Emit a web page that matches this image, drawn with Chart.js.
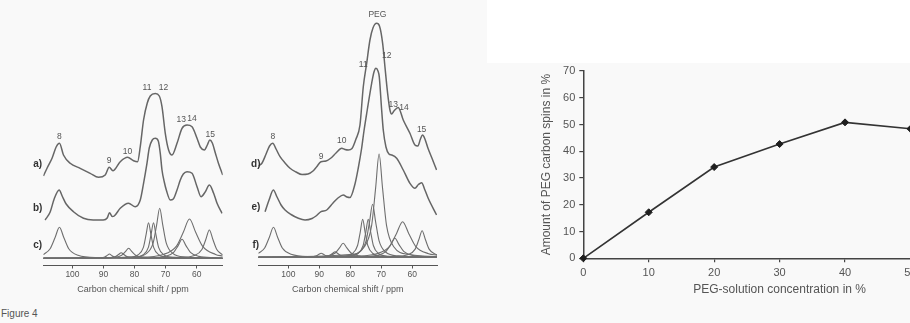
<!DOCTYPE html>
<html><head><meta charset="utf-8">
<script src="https://cdn.jsdelivr.net/npm/chart.js@4.4.1/dist/chart.umd.min.js"></script>
<style>
html,body{margin:0;padding:0;width:910px;height:323px;overflow:hidden;background:#f9f9f9;font-family:"Liberation Sans",Arial,sans-serif;}
#topwhite{position:absolute;left:487px;top:0;width:423px;height:63px;background:#fff;}
canvas{position:absolute;}
#p1{left:25px;top:0;}
#p2{left:240px;top:0;}
#p3{left:536px;top:55px;}
#fig{position:absolute;left:1px;top:308px;font-size:10px;line-height:12px;color:#555;}
</style></head><body>
<div id="topwhite"></div>
<canvas id="p1" width="205" height="300"></canvas>
<canvas id="p2" width="205" height="300"></canvas>
<canvas id="p3" width="450" height="250"></canvas>
<div id="fig">Figure 4</div>
<script>
// ---------- data: right chart ----------
const concentration = [0, 10, 20, 30, 40, 50];
const pegSpins = [0, 17.2, 34.1, 42.7, 50.8, 48.4];

// ---------- data: spectra (ppm, intensity above component baseline) ----------
const ppmTicks = [100, 90, 80, 70, 60];

const traceA = [[109.35,82.3],[108.16,90.3],[106.55,100.3],[105.26,111.3],[104.19,115],[102.9,103.3],[100.74,95],[97.52,90],[94.29,85],[91.61,81],[89.45,83.3],[88.16,91],[86.97,87.6],[84.61,96.6],[82.26,101],[80.32,97.6],[79.03,96.6],[78.16,111.6],[77.1,138.3],[75.9,155.3],[74.94,162.3],[73.32,164.8],[72.03,162.3],[71.16,151.6],[70.1,125],[69.03,108.3],[67.94,103.3],[66.32,115],[64.71,130],[63.1,133.3],[61.48,131.6],[59.87,120],[58.81,111.3],[57.52,108.3],[56.55,113.3],[55.74,118.3],[54.94,115.3],[53.97,105.3],[53.0,95.3],[51.6,83.3]];

const traceB = [[108.81,38.3],[107.19,46.3],[105.9,59.3],[104.29,68.3],[103.32,62.3],[102.03,54.3],[99.68,46.6],[96.45,40],[93.32,38.3],[90.1,38.3],[88.81,40.3],[88.06,45.6],[87.19,41.8],[86.55,42.3],[84.61,50],[81.94,55],[79.77,51.6],[78.16,58.3],[77.1,75],[76.0,95],[75.26,110.3],[74.29,118.3],[73.32,120],[72.35,117.3],[71.71,105],[71.16,88.3],[70.42,76.3],[69.77,68.3],[68.48,58.3],[67.52,59.3],[66.32,68.3],[65.26,78.3],[64.29,84.3],[63.1,86.6],[61.48,85],[59.87,71.6],[58.58,61.6],[57.19,66.6],[55.9,73.3],[54.52,65],[53.42,55],[51.81,45]];

const componentsC = [
  [[109.4,3.6],[107.2,9.6],[105.6,20.8],[104.2,31],[102.8,20.8],[101.2,9.6],[98.2,3.1],[92.2,0.8],[51.6,0]],
  [[109.4,0],[94.1,0.1],[91.1,0.43],[89.6,1.3],[88.8,2.9],[88.1,4.3],[87.4,2.9],[86.6,1.3],[85.1,0.43],[82.1,0.1],[51.6,0]],
  [[109.4,0],[91.5,0.15],[87.9,0.56],[86.1,1.7],[85.14,3.8],[84.3,5.6],[83.46,3.8],[82.5,1.7],[80.7,0.56],[77.1,0.15],[51.6,0]],
  [[109.4,0],[90.9,0.27],[86.4,1],[84.15,3.1],[82.95,6.7],[81.9,10],[80.85,6.7],[79.65,3.1],[77.4,1],[72.9,0.27],[51.6,0]],
  [[109.4,0],[82.1,1],[78.8,3.6],[77.15,11],[76.27,23.9],[75.5,35.6],[74.73,23.9],[73.85,11],[72.2,3.6],[68.9,1],[51.6,0]],
  [[109.4,0],[80.5,1],[77.2,3.6],[75.55,11],[74.67,23.9],[73.9,35.6],[73.13,23.9],[72.25,11],[70.6,3.6],[67.3,1],[51.6,0]],
  [[109.4,0],[80.3,1.35],[76.1,5],[74.0,15.5],[72.88,33.5],[71.9,50],[70.92,33.5],[69.8,15.5],[67.7,5],[63.5,1.35],[51.6,0]],
  [[109.4,0],[75.5,0.5],[70.1,1.9],[67.4,5.9],[65.96,12.7],[64.7,19],[63.44,12.7],[62.0,5.9],[59.3,1.9],[53.9,0.5],[51.6,0]],
  [[109.4,0],[79.1,1.06],[70.7,3.9],[66.5,12.2],[64.26,26.3],[62.3,39.3],[60.34,26.3],[58.1,12.2],[53.9,3.9],[51.6,2.2]],
  [[109.4,0],[65.5,0.76],[60.7,2.8],[58.3,8.8],[57.02,19],[55.9,28.3],[54.78,19],[53.5,8.8],[51.6,3.4]]
];

const traceD = [[109.61,91.3],[108.48,94.3],[107.19,103.3],[106.06,111.3],[105.03,114],[103.97,108.3],[102.68,100.6],[101.06,94.3],[99.45,89],[97.52,85.3],[95.58,82.8],[93.65,83.3],[92.03,86.3],[90.84,90.6],[89.45,95.6],[87.84,96.3],[86.23,99.3],[84.61,104.3],[82.77,109],[81.71,107.8],[80.65,107.3],[79.45,108.8],[78.16,118.3],[76.87,132.3],[75.81,170.3],[74.71,194],[73.65,217.3],[72.68,229.3],[71.48,234],[70.58,231.3],[69.55,214],[68.81,190.6],[67.94,164],[67.19,147.3],[66.65,143.3],[65.9,146.3],[64.52,149.8],[62.9,137.3],[60.74,124],[59.13,112.3],[58.16,111.3],[57.35,118.3],[56.65,122.3],[55.9,118.3],[54.94,109.3],[53.65,99.3],[52.13,87.3]];

const traceE = [[107.52,45.6],[106.23,57.3],[104.84,67.3],[103.65,60.3],[102.35,52.3],[101.06,47.3],[99.13,42.8],[96.77,39],[94.61,37.3],[92.35,38.8],[91.06,41.3],[89.45,45.6],[87.61,47.3],[85.58,54.3],[83.97,59.3],[82.26,62.3],[81.06,60.3],[80.1,59.8],[78.48,73.3],[77.42,89.3],[76.32,109.3],[75.58,126.3],[74.52,147.3],[73.1,174],[72.35,185.3],[71.71,189],[71.06,186.3],[70.65,180.6],[69.87,147.3],[69.35,127.3],[68.48,110.3],[67.52,103.3],[66.65,102.3],[65.03,99],[62.9,87.3],[60.74,74],[59.13,69],[58.0,72.8],[56.97,74.6],[55.9,67.3],[54.84,59],[52.13,42.3]];

const componentsF = [
  [[109.7,3.9],[107.65,9.3],[106.13,20.1],[104.8,30],[103.47,20.1],[101.95,9.3],[99.1,3],[93.4,0.8],[52,0]],
  [[109.7,0],[96.6,0.1],[93.0,0.4],[91.2,1.2],[90.24,2.7],[89.4,4],[88.56,2.7],[87.6,1.2],[85.8,0.4],[82.2,0.1],[52,0]],
  [[109.7,0],[92.1,0.15],[88.5,0.56],[86.7,1.7],[85.74,3.8],[84.9,5.6],[84.06,3.8],[83.1,1.7],[81.3,0.56],[77.7,0.15],[52,0]],
  [[109.7,0],[92.5,0.38],[87.4,1.4],[84.85,4.3],[83.49,9.4],[82.3,14],[81.11,9.4],[79.75,4.3],[77.2,1.4],[72.1,0.38],[52,0]],
  [[109.7,0],[82.6,1],[79.3,3.8],[77.65,11.8],[76.77,25.5],[76.0,38],[75.23,25.5],[74.35,11.8],[72.7,3.8],[69.4,1],[52,0]],
  [[109.7,0],[80.8,1],[77.5,3.8],[75.85,11.8],[74.97,25.5],[74.2,38],[73.43,25.5],[72.55,11.8],[70.9,3.8],[67.6,1],[52,0]],
  [[109.7,0],[81.2,1.4],[77.0,5.3],[74.9,16.4],[73.78,35.5],[72.8,53],[71.82,35.5],[70.7,16.4],[68.6,5.3],[64.4,1.4],[52,0]],
  [[109.7,0],[80.3,2.8],[75.5,10.3],[73.1,32],[71.82,69.2],[70.7,103.3],[69.58,69.2],[68.3,32],[65.9,10.3],[61.1,2.8],[52,0.8]],
  [[109.7,0],[77.0,0.5],[71.3,1.9],[68.45,5.9],[66.93,12.7],[65.6,19],[64.27,12.7],[62.75,5.9],[59.9,1.9],[54.2,0.5],[52,0]],
  [[109.7,0],[79.9,0.96],[71.5,3.6],[67.3,11],[65.06,23.9],[63.1,35.6],[61.14,23.9],[58.9,11],[54.7,3.6],[52,2.2]],
  [[109.7,0],[65.8,0.72],[61.3,2.7],[59.05,8.2],[57.85,17.8],[56.8,26.6],[55.75,17.8],[54.55,8.2],[52.3,2.7],[52,2.5]]
];

// ---------- text annotations (label, ppm, intensity) ----------
const peakLabels1 = [["8",104.2,121.6],["9",88.16,97.6],["10",82.26,106.6],["11",76.0,171],["12",70.65,171],["13",64.94,139],["14",61.48,140],["15",55.58,124]];
const seriesLabels1 = [["a)",111.2,94.3],["b)",111.2,50.3],["c)",111.2,13.3]];
const peakLabels2 = [["PEG",71.26,242.3],["11",75.81,192.3],["12",68.26,201.3],["13",66.13,152.3],["14",62.68,150],["15",56.97,128],["8",105.03,120.6],["9",89.45,100.6],["10",82.77,116.6]];
const seriesLabels2 = [["d)",110.5,93.3],["e)",110.5,50.3],["f)",110.5,12.3]];

// ---------- rendering ----------
const FONT = '"Liberation Sans", Arial, Helvetica, sans-serif';
Chart.defaults.font.family = FONT;

const textMarks = {
  id: 'textMarks',
  afterDatasetsDraw(chart, args, opts) {
    const {ctx, scales: {x, y}} = chart;
    ctx.save();
    ctx.textAlign = 'center';
    ctx.textBaseline = 'middle';
    ctx.font = '8.5px ' + FONT;
    ctx.fillStyle = '#555';
    (opts.peaks || []).forEach(p => ctx.fillText(p[0], x.getPixelForValue(p[1]), y.getPixelForValue(p[2])));
    ctx.font = 'bold 10px ' + FONT;
    ctx.fillStyle = '#333';
    (opts.series || []).forEach(p => ctx.fillText(p[0], x.getPixelForValue(p[1]), y.getPixelForValue(p[2])));
    ctx.restore();
  }
};

function spectrumChart(id, xmin, xmax, ymin, ymax, traces, comps, peaks, series, padL, padR) {
  const ds = [];
  traces.forEach(t => ds.push({data: t, borderColor: '#666', borderWidth: 1.5, pointRadius: 0, cubicInterpolationMode: 'monotone', fill: false}));
  comps.forEach(c => ds.push({data: c, borderColor: '#6e6e6e', borderWidth: 1.1, pointRadius: 0, cubicInterpolationMode: 'monotone', fill: false}));
  new Chart(document.getElementById(id), {
    type: 'line',
    data: {datasets: ds},
    options: {
      responsive: false, animation: false, devicePixelRatio: 1,
      layout: {padding: {left: padL, right: padR, top: 0, bottom: 0}},
      plugins: {legend: {display: false}, tooltip: {enabled: false}, textMarks: {peaks: peaks, series: series}},
      scales: {
        x: {
          type: 'linear', reverse: true, min: xmin, max: xmax,
          afterBuildTicks: s => { s.ticks = ppmTicks.map(v => ({value: v})); },
          afterFit: s => { s.height = 300 - 265.5; },
          grid: {drawOnChartArea: false, drawTicks: true, tickLength: 3, color: '#555'},
          border: {display: true, color: '#555', width: 1},
          ticks: {font: {size: 8.5}, color: '#555', padding: 1.5, maxRotation: 0},
          title: {display: true, text: 'Carbon chemical shift / ppm', font: {size: 9}, color: '#555', padding: {top: 0, bottom: 5.1}}
        },
        y: {type: 'linear', display: false, min: ymin, max: ymax}
      }
    },
    plugins: [textMarks]
  });
}

spectrumChart('p1', 51.6, 109.4, -7.2, 258.3, [traceA, traceB], componentsC, peakLabels1, seriesLabels1, 18.3, 7.3);
spectrumChart('p2', 52, 109.7, -8.2, 257.3, [traceD, traceE], componentsF, peakLabels2, seriesLabels2, 18.3, 8);

new Chart(document.getElementById('p3'), {
  type: 'line',
  data: {datasets: [{
    data: concentration.map((c, i) => ({x: c, y: pegSpins[i]})),
    borderColor: '#333', borderWidth: 1.6, tension: 0, clip: false,
    pointStyle: 'rectRot', pointRadius: 3.5, pointBackgroundColor: '#1e1e1e', pointBorderColor: '#1e1e1e', pointBorderWidth: 1
  }]},
  options: {
    responsive: false, animation: false, devicePixelRatio: 1,
    layout: {padding: {left: 0, top: 16, right: 6.6, bottom: 0}},
    plugins: {legend: {display: false}, tooltip: {enabled: false}},
    scales: {
      x: {
        type: 'linear', min: 0, max: 60,
        ticks: {stepSize: 10, font: {size: 11}, color: '#555', padding: 4, maxRotation: 0},
        grid: {drawOnChartArea: false, drawTicks: true, tickLength: 4, color: '#444', lineWidth: 1.2},
        border: {display: true, color: '#444', width: 1.5},
        title: {display: true, text: 'PEG-solution concentration in %', font: {size: 12}, color: '#555', padding: {top: 0, bottom: 7.8}},
        afterFit: s => { s.height = 46.7; }
      },
      y: {
        type: 'linear', min: 0, max: 70,
        ticks: {stepSize: 10, font: {size: 11}, color: '#555', padding: 4},
        grid: {drawOnChartArea: false, drawTicks: true, tickLength: 4, color: '#444', lineWidth: 1.2},
        border: {display: true, color: '#444', width: 1.5},
        title: {display: true, text: 'Amount of PEG carbon spins in %', font: {size: 12}, color: '#555', padding: {top: 3.5, bottom: 0}},
        afterFit: s => { s.width = 47.3; }
      }
    }
  }
});
</script>
</body></html>
